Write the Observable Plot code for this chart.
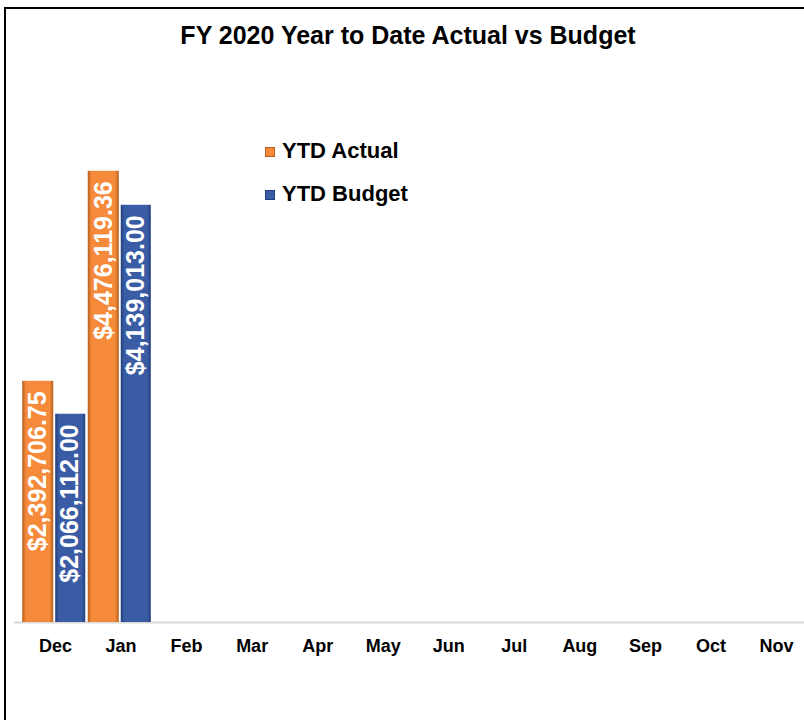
<!DOCTYPE html>
<html>
<head>
<meta charset="utf-8">
<script src="https://cdn.jsdelivr.net/npm/d3@7"></script>
<script src="https://cdn.jsdelivr.net/npm/@observablehq/plot@0.6"></script>
<style>
  html, body { margin: 0; padding: 0; background: #fff; }
  body { width: 804px; height: 720px; position: relative; overflow: hidden; font-family: "Liberation Sans", Arial, sans-serif; }
  #frame { position: absolute; left: 4px; top: 7px; width: 800px; height: 713px; border-left: 2px solid #000; border-top: 2px solid #000; box-sizing: border-box; }
  #title { position: absolute; left: 0; width: 816px; top: 21px; text-align: center; font-size: 25px; line-height: 28px; font-weight: bold; color: #000; }
  #chart { position: absolute; left: 0; top: 60px; }
  .leg { position: absolute; left: 265px; font-size: 22px; line-height: 24px; font-weight: bold; color: #000; white-space: nowrap; }
  .leg span.sw { display: inline-block; width: 10px; height: 10px; margin-right: 7px; vertical-align: 1px; box-sizing: border-box; }
  #chart svg [aria-label^="x-axis"] text { font-size: 18px; font-weight: bold; fill: #000; }
</style>
</head>
<body>
<div id="frame"></div>
<div id="title">FY 2020 Year to Date Actual vs Budget</div>
<div id="chart"></div>
<div id="legend"></div>
<script>
const months = ["Dec","Jan","Feb","Mar","Apr","May","Jun","Jul","Aug","Sep","Oct","Nov"];
const series = ["YTD Actual","YTD Budget"];
const actualMonths = ["Dec","Jan"];
const actualValues = [2392706.75, 4476119.36];
const budgetValues = [2066112.00, 4139013.00];
const seriesColors = ["#F58A3B", "#3A5CA4"];
const seriesDark = ["#B5601F", "#233F7C"];

const rowsA = actualMonths.map((m, i) => ({month: m, series: series[0], value: actualValues[i]}));
const rowsB = actualMonths.map((m, i) => ({month: m, series: series[1], value: budgetValues[i]}));
const fmt = d3.format("$,.2f");

const chart = Plot.plot({
  width: 804,
  height: 660,
  marginLeft: 14,
  marginRight: 0,
  marginTop: 58,
  marginBottom: 98,
  x: {domain: months, range: [22.2, 808.8], padding: 0, round: false, label: null, tickSize: 0, tickPadding: 17},
  y: {domain: [0, 5000000], axis: null},
  color: {domain: series, range: ["url(#gA)", "url(#gB)"]},
  style: {fontFamily: "'Liberation Sans', Arial, sans-serif", background: "transparent", overflow: "visible", color: "#000"},
  marks: [
    Plot.ruleY([0], {stroke: "#d9d9d9", strokeWidth: 2}),
    Plot.barY(rowsA, {x: "month", y: "value", fill: "series", insetLeft: 0, insetRight: 34.5}),
    Plot.barY(rowsB, {x: "month", y: "value", fill: "series", insetLeft: 33, insetRight: 2.5}),
    Plot.text(rowsA, {x: "month", y: "value", text: d => fmt(d.value), rotate: -90, textAnchor: "end", dy: 10, dx: -17, fill: "white", fontSize: 25, fontWeight: "bold"}),
    Plot.text(rowsB, {x: "month", y: "value", text: d => fmt(d.value), rotate: -90, textAnchor: "end", dy: 10, dx: 15, fill: "white", fontSize: 25, fontWeight: "bold"})
  ]
});

// gradients for the bevelled bar look
const defs = d3.select(chart).insert("defs", ":first-child");
[["gA", 0], ["gB", 1]].forEach(([id, i]) => {
  const g = defs.append("linearGradient").attr("id", id).attr("x1", 0).attr("x2", 1).attr("y1", 0).attr("y2", 0);
  g.append("stop").attr("offset", 0).attr("stop-color", seriesDark[i]);
  g.append("stop").attr("offset", 0.12).attr("stop-color", seriesColors[i]);
  g.append("stop").attr("offset", 0.88).attr("stop-color", seriesColors[i]);
  g.append("stop").attr("offset", 1).attr("stop-color", seriesDark[i]);
});
document.getElementById("chart").appendChild(chart);

// legend
const legend = document.getElementById("legend");
const legendTops = [139, 182];
series.forEach((s, i) => {
  const div = document.createElement("div");
  div.className = "leg";
  div.style.top = legendTops[i] + "px";
  const sw = document.createElement("span");
  sw.className = "sw";
  sw.style.background = seriesColors[i];
  sw.style.border = "1px solid " + seriesDark[i];
  div.appendChild(sw);
  div.appendChild(document.createTextNode(s));
  legend.appendChild(div);
});
</script>
</body>
</html>
